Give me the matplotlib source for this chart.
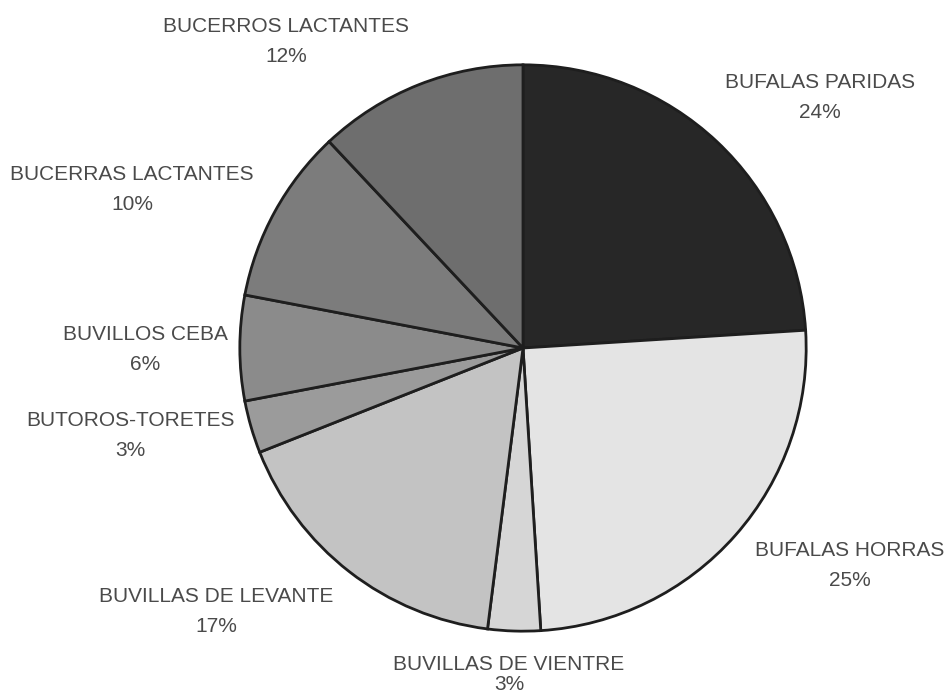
import matplotlib.pyplot as plt

categories = ['BUFALAS PARIDAS', 'BUFALAS HORRAS', 'BUVILLAS DE VIENTRE',
              'BUVILLAS DE LEVANTE', 'BUTOROS-TORETES', 'BUVILLOS CEBA',
              'BUCERRAS LACTANTES', 'BUCERROS LACTANTES']
shares = [24, 25, 3, 17, 3, 6, 10, 12]

colors = ['#272727', '#e4e4e4', '#d6d6d6', '#c3c3c3',
          '#9b9b9b', '#8b8b8b', '#7c7c7c', '#6e6e6e']

# label centres in pixels (from the top-left corner)
label_px = [(820, 83), (850, 551), (509, 664), (216, 596),
            (130, 420), (145, 334), (132, 174), (286, 27)]

W, H = 947, 697
fig = plt.figure(figsize=(W / 100, H / 100), dpi=100)
fig.patch.set_facecolor('white')

cx, cy, r = 523, 348, 286
ax = fig.add_axes([(cx - r) / W, (H - cy - r) / H, 2 * r / W, 2 * r / H])
ax.pie(shares, colors=colors, startangle=90, counterclock=False,
       radius=1.0, wedgeprops=dict(edgecolor='#1e1e1e', linewidth=2))
ax.set_xlim(-1.01, 1.01)
ax.set_ylim(-1.01, 1.01)
ax.set_aspect('equal')
ax.axis('off')

for name, val, (px, py) in zip(categories, shares, label_px):
    fig.text(px / W, 1 - py / H, name, ha='center', va='center',
             fontsize=15, family='Liberation Sans', color='#4a4a4a')
    fig.text(px / W, 1 - min(py + 30, 684) / H, f'{val}%', ha='center',
             va='center', fontsize=15, family='Liberation Sans',
             color='#4a4a4a')

fig.savefig('out.png', dpi=100)
